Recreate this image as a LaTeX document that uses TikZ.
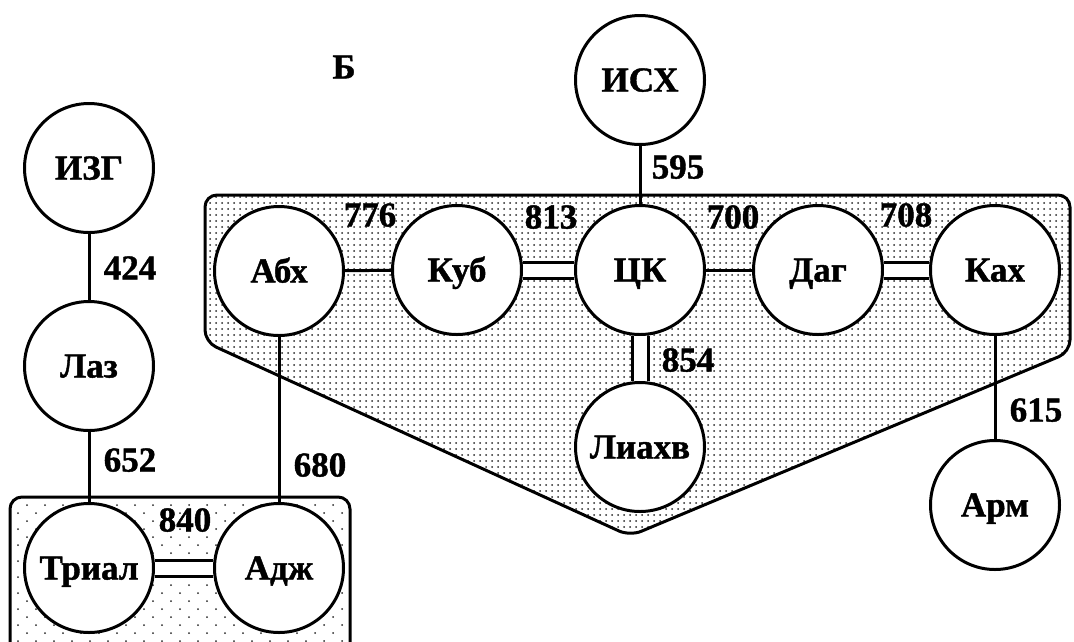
\documentclass[tikz,border=0pt]{standalone}
\usepackage{fontspec}
\setmainfont{Liberation Serif}[BoldFeatures={FakeBold=1.2}]
\usetikzlibrary{patterns.meta}
\tikzdeclarepattern{
  name=finedots,
  type=uncolored,
  bottom left={(-1pt,-1pt)},
  top right={(5pt,5pt)},
  tile size={(6pt,6pt)},
  code={\fill (0pt,0pt) circle (1pt);}
}
\tikzdeclarepattern{
  name=coarsedots,
  type=uncolored,
  bottom left={(-1pt,-1pt)},
  top right={(17pt,15pt)},
  tile size={(18pt,16pt)},
  code={\fill (0pt,0pt) circle (1pt); \fill (9pt,8pt) circle (1pt);}
}
\begin{document}
\begin{tikzpicture}[x=1pt,y=-1pt,
  stn/.style={circle,draw,line width=3pt,fill=white,minimum size=129pt,inner sep=0pt,
    font=\bfseries\fontsize{35}{38}\selectfont,text height=23pt,text depth=0pt},
  lbl/.style={font=\bfseries\fontsize{35}{38}\selectfont,inner sep=0pt,text height=23pt,text depth=0pt},
  link/.style={line width=3pt},
  dbl/.style={line width=3pt,double=white,double distance=13pt},
  bigregion/.style={draw,line width=3pt,rounded corners=12pt,pattern=finedots,pattern color=black!85},
  smallregion/.style={draw,line width=3pt,rounded corners=12pt,pattern=coarsedots,pattern color=black!85}]
\useasboundingbox (0,0) rectangle (1074,641);
% regions
\draw[bigregion] (205,195) -- (1070,195) -- (1070,352) -- (630,536) -- (205,342) -- cycle;
\draw[smallregion] (10,497) rectangle (350,680);
% nodes
\node[stn] (izg) at (89,168) {ИЗГ};
\node[stn] (laz) at (89,366) {Лаз};
\node[stn] (trial) at (89,568) {Триал};
\node[stn] (adzh) at (279,568) {Адж};
\node[stn] (abh) at (279,271) {Абх};
\node[stn] (kub) at (457,270) {Куб};
\node[stn] (ck) at (640,270) {ЦК};
\node[stn] (dag) at (818,270) {Даг};
\node[stn] (kah) at (995,270) {Ках};
\node[stn] (isx) at (640,80) {ИСХ};
\node[stn] (liah) at (640,447) {Лиахв};
\node[stn] (arm) at (995,505) {Арм};
% connectors
\draw[link] (izg) -- (laz);
\draw[link] (laz) -- (trial);
\draw[dbl] (trial) -- (adzh);
\draw[link] (abh) -- (adzh);
\draw[link] (abh) -- (kub);
\draw[dbl] (kub) -- (ck);
\draw[link] (ck) -- (dag);
\draw[dbl] (dag) -- (kah);
\draw[link] (isx) -- (ck);
\draw[dbl] (ck) -- (liah);
\draw[link] (kah) -- (arm);
% labels
\node[lbl] (l424) at (130,268) {424};
\node[lbl] (l652) at (130,460) {652};
\node[lbl] (l680) at (320,465) {680};
\node[lbl] (l840) at (185,520) {840};
\node[lbl] (l776) at (370,215) {776};
\node[lbl] (l813) at (551,217) {813};
\node[lbl] (l700) at (733,217) {700};
\node[lbl] (l708) at (906,215) {708};
\node[lbl] (l854) at (688,360) {854};
\node[lbl] (l595) at (678,167) {595};
\node[lbl] (l615) at (1036,410) {615};
\node[lbl] (b) at (344,67) {Б};
\end{tikzpicture}
\end{document}
